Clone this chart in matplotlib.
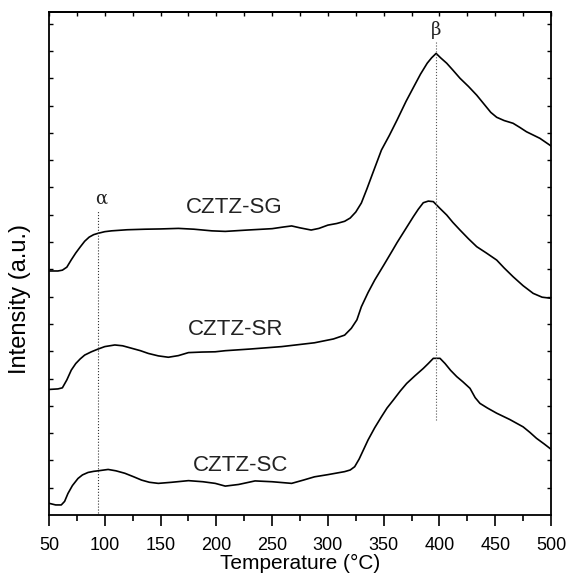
import numpy as np
import matplotlib.pyplot as plt

plt.rcParams['font.family'] = ['Liberation Sans', 'DejaVu Sans']

# TPR traces (temperature in C, intensity in a.u.)
t_sg = [50, 58, 62, 66, 70, 74, 78, 82, 86, 90, 94, 100, 106, 120, 136, 150, 166, 180,
        196, 208, 228, 250, 260, 267.5, 275, 285, 292, 300, 308, 315, 320, 325, 330,
        335, 340, 348, 355, 362, 370, 377, 383, 389, 393, 397, 401, 406.5, 412, 418.4,
        426, 433.4, 440, 446, 451.3, 458, 466, 472, 478, 485, 490, 495, 500]
i_sg = [8.94, 8.94, 8.97, 9.08, 9.35, 9.6, 9.82, 10.03, 10.18, 10.27, 10.32, 10.38,
        10.41, 10.45, 10.47, 10.48, 10.50, 10.47, 10.41, 10.39, 10.44, 10.49, 10.55,
        10.59, 10.52, 10.44, 10.5, 10.62, 10.68, 10.76, 10.88, 11.1, 11.43, 11.95, 12.5,
        13.37, 13.9, 14.47, 15.15, 15.69, 16.15, 16.55, 16.75, 16.91, 16.75, 16.55,
        16.3, 16.0, 15.7, 15.38, 15.05, 14.75, 14.57, 14.45, 14.35, 14.2, 14.04, 13.9,
        13.80, 13.66, 13.52]

t_sr = [50, 58, 62, 66, 70, 74, 78, 82, 88, 94, 100, 109, 116, 124, 132, 139, 148, 157,
        166, 175, 187, 199, 208, 230, 258.6, 288, 305, 315, 321, 326, 330, 336, 342,
        350, 358, 362, 370, 376.6, 381, 385.5, 390, 394.5, 400, 406.5, 412, 418.4, 426,
        433.4, 442, 451.3, 458, 466, 475, 484, 492, 500]
i_sr = [4.60, 4.62, 4.66, 4.95, 5.31, 5.55, 5.72, 5.86, 5.98, 6.08, 6.17, 6.23, 6.2,
        6.11, 6.02, 5.92, 5.83, 5.78, 5.84, 5.95, 5.97, 5.98, 6.02, 6.08, 6.17, 6.31,
        6.45, 6.59, 6.84, 7.15, 7.63, 8.15, 8.61, 9.15, 9.7, 9.98, 10.5, 10.93, 11.2,
        11.44, 11.5, 11.48, 11.25, 10.99, 10.72, 10.44, 10.12, 9.83, 9.6, 9.34, 9.05,
        8.73, 8.4, 8.12, 7.98, 7.94]

t_sc = [50, 56, 61, 64, 67, 71, 76, 80, 85, 90, 94, 103, 110, 118, 126, 133, 140, 148,
        160, 175, 188, 199, 208, 220, 234.7, 250, 267.5, 278, 288, 300, 315, 320, 324,
        328, 332, 336, 342, 348, 353, 358.6, 365, 370.6, 378, 385.5, 390, 394.5, 400.5,
        405, 410, 415.5, 421, 427.4, 432, 436.3, 443, 451.3, 463, 475, 481, 487, 494, 500]
i_sc = [0.43, 0.37, 0.37, 0.5, 0.79, 1.08, 1.34, 1.47, 1.56, 1.6, 1.62, 1.67, 1.62,
        1.53, 1.4, 1.28, 1.2, 1.16, 1.2, 1.26, 1.22, 1.16, 1.06, 1.12, 1.25, 1.22, 1.16,
        1.28, 1.40, 1.48, 1.59, 1.65, 1.77, 2.05, 2.4, 2.75, 3.2, 3.60, 3.92, 4.21, 4.55,
        4.82, 5.1, 5.37, 5.55, 5.74, 5.74, 5.55, 5.3, 5.07, 4.88, 4.64, 4.3, 4.09, 3.92,
        3.73, 3.5, 3.23, 3.03, 2.81, 2.6, 2.41]

names = ['CZTZ-SG', 'CZTZ-SR', 'CZTZ-SC']
name_x = [215.8, 217.6, 222]
name_y = [11.25, 6.8, 1.8]

alpha_t = 94
beta_t = 397

fig = plt.figure(figsize=(5.69, 5.80), dpi=100)
ax = fig.add_axes([0.0861, 0.112, 0.8823, 0.867])

for t, i in [(t_sg, i_sg), (t_sr, i_sr), (t_sc, i_sc)]:
    ax.plot(t, i, color='black', lw=1.2)

ax.plot([alpha_t, alpha_t], [0.08, 11.17], color='#333333', ls=':', lw=0.8)
ax.plot([beta_t, beta_t], [3.48, 17.34], color='#555555', ls=':', lw=0.8)
ax.text(alpha_t + 3, 11.6, 'α', family='DejaVu Serif', fontsize=13,
        ha='center', va='center', color='#222222')
ax.text(beta_t, 17.75, 'β', family='DejaVu Serif', fontsize=13,
        ha='center', va='center', color='#222222')

for n, x, y in zip(names, name_x, name_y):
    ax.text(x, y, n, fontsize=16, ha='center', va='center', color='#222222')

ax.set_xlim(50, 500)
ax.set_ylim(0, 18.42)
ax.set_xticks(np.arange(50, 501, 50))
ax.set_xticks(np.arange(75, 500, 50), minor=True)
ax.set_yticks(np.arange(1, 19, 1))
ax.set_yticklabels([])

ax.tick_params(axis='x', which='major', direction='out', length=8, width=1.2,
               labelsize=13, pad=8, top=False)
ax.tick_params(axis='x', which='minor', direction='out', length=4, width=1.2, top=False)
ax.tick_params(axis='y', direction='in', length=3, width=1, left=True, right=True)

# small inward ticks along the top edge
top = ax.secondary_xaxis('top')
top.set_xticks(np.arange(50, 501, 25))
top.set_xticklabels([])
top.tick_params(direction='in', length=3, width=1)

for s in ax.spines.values():
    s.set_linewidth(1.3)
top.spines['top'].set_linewidth(1.3)

ax.set_xlabel('Temperature (°C)', fontsize=15, labelpad=0)
ax.set_ylabel('Intensity (a.u.)', fontsize=17)
ax.yaxis.set_label_coords(-0.036, 0.43)

fig.savefig('out.png', dpi=100)
